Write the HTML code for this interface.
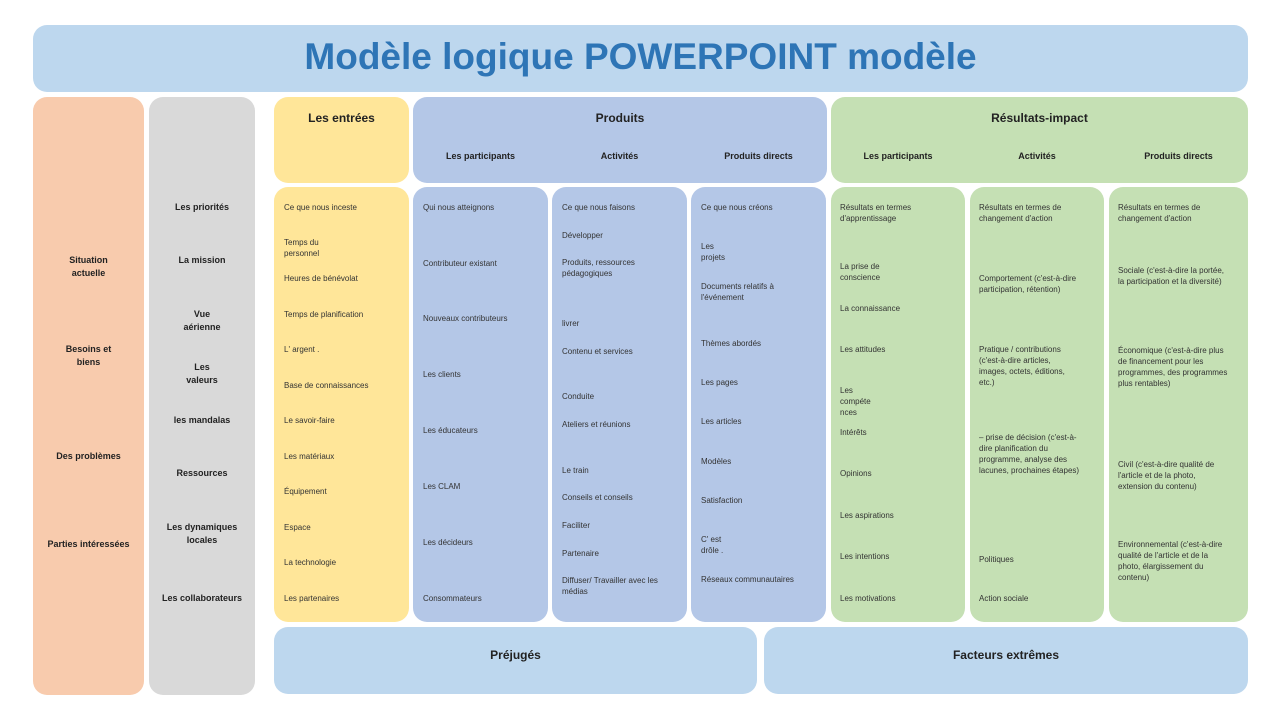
<!DOCTYPE html><html><head><meta charset="utf-8"><style>
body{margin:0;width:1280px;height:720px;background:#fff;position:relative;overflow:hidden;font-family:"Liberation Sans",sans-serif}
.b{position:absolute;border-radius:14px}
.t{position:absolute;font-size:8px;line-height:11px;color:#333}
.h{position:absolute;font-weight:bold;font-size:12px;color:#222;text-align:center}
.s{position:absolute;font-weight:bold;font-size:9px;color:#222;text-align:center;line-height:13px}
</style></head><body>
<div class="b" style="left:33px;top:25px;width:1215px;height:67px;background:#bdd7ee"></div>
<div style="position:absolute;left:33px;top:36px;width:1215px;text-align:center;font-weight:bold;font-size:37px;color:#2e75b6">Modèle logique POWERPOINT modèle</div>
<div class="b" style="left:33px;top:97px;width:111px;height:598px;background:#f8cbad"></div>
<div class="b" style="left:149px;top:97px;width:106px;height:598px;background:#d9d9d9"></div>
<div class="b" style="left:274px;top:97px;width:135px;height:86px;background:#ffe699"></div>
<div class="b" style="left:413px;top:97px;width:414px;height:86px;background:#b4c7e7"></div>
<div class="b" style="left:831px;top:97px;width:417px;height:86px;background:#c5e0b4"></div>
<div class="b" style="left:274px;top:187px;width:135px;height:435px;background:#ffe699"></div>
<div class="b" style="left:413px;top:187px;width:135px;height:435px;background:#b4c7e7"></div>
<div class="b" style="left:552px;top:187px;width:135px;height:435px;background:#b4c7e7"></div>
<div class="b" style="left:691px;top:187px;width:135px;height:435px;background:#b4c7e7"></div>
<div class="b" style="left:831px;top:187px;width:134px;height:435px;background:#c5e0b4"></div>
<div class="b" style="left:970px;top:187px;width:134px;height:435px;background:#c5e0b4"></div>
<div class="b" style="left:1109px;top:187px;width:139px;height:435px;background:#c5e0b4"></div>
<div class="b" style="left:274px;top:627px;width:483px;height:67px;background:#bdd7ee"></div>
<div class="b" style="left:764px;top:627px;width:484px;height:67px;background:#bdd7ee"></div>

<div class="h" style="left:274px;top:111px;width:135px">Les entrées</div>
<div class="h" style="left:413px;top:111px;width:414px">Produits</div>
<div class="h" style="left:831px;top:111px;width:417px">Résultats-impact</div>
<div class="s" style="left:413px;top:150px;width:135px">Les participants</div>
<div class="s" style="left:552px;top:150px;width:135px">Activités</div>
<div class="s" style="left:691px;top:150px;width:135px">Produits directs</div>
<div class="s" style="left:831px;top:150px;width:134px">Les participants</div>
<div class="s" style="left:970px;top:150px;width:134px">Activités</div>
<div class="s" style="left:1109px;top:150px;width:139px">Produits directs</div>
<div class="h" style="left:274px;top:648px;width:483px">Préjugés</div>
<div class="h" style="left:764px;top:648px;width:484px">Facteurs extrêmes</div>

<div class="s" style="left:33px;top:254px;width:111px">Situation<br>actuelle</div>
<div class="s" style="left:33px;top:343px;width:111px">Besoins et<br>biens</div>
<div class="s" style="left:33px;top:450px;width:111px">Des problèmes</div>
<div class="s" style="left:33px;top:538px;width:111px">Parties intéressées</div>

<div class="s" style="left:149px;top:201px;width:106px">Les priorités</div>
<div class="s" style="left:149px;top:254px;width:106px">La mission</div>
<div class="s" style="left:149px;top:308px;width:106px">Vue<br>aérienne</div>
<div class="s" style="left:149px;top:361px;width:106px">Les<br>valeurs</div>
<div class="s" style="left:149px;top:414px;width:106px">les mandalas</div>
<div class="s" style="left:149px;top:467px;width:106px">Ressources</div>
<div class="s" style="left:149px;top:521px;width:106px">Les dynamiques<br>locales</div>
<div class="s" style="left:149px;top:592px;width:106px">Les collaborateurs</div>

<div class="t" style="left:284px;top:202px">Ce que nous inceste</div>
<div class="t" style="left:284px;top:237px">Temps du<br>personnel</div>
<div class="t" style="left:284px;top:273px">Heures de bénévolat</div>
<div class="t" style="left:284px;top:309px">Temps de planification</div>
<div class="t" style="left:284px;top:344px">L' argent .</div>
<div class="t" style="left:284px;top:380px">Base de connaissances</div>
<div class="t" style="left:284px;top:415px">Le savoir-faire</div>
<div class="t" style="left:284px;top:451px">Les matériaux</div>
<div class="t" style="left:284px;top:486px">Équipement</div>
<div class="t" style="left:284px;top:522px">Espace</div>
<div class="t" style="left:284px;top:557px">La technologie</div>
<div class="t" style="left:284px;top:593px">Les partenaires</div>

<div class="t" style="left:423px;top:202px">Qui nous atteignons</div>
<div class="t" style="left:423px;top:258px">Contributeur existant</div>
<div class="t" style="left:423px;top:313px">Nouveaux contributeurs</div>
<div class="t" style="left:423px;top:369px">Les clients</div>
<div class="t" style="left:423px;top:425px">Les éducateurs</div>
<div class="t" style="left:423px;top:481px">Les CLAM</div>
<div class="t" style="left:423px;top:537px">Les décideurs</div>
<div class="t" style="left:423px;top:593px">Consommateurs</div>

<div class="t" style="left:562px;top:202px">Ce que nous faisons</div>
<div class="t" style="left:562px;top:230px">Développer</div>
<div class="t" style="left:562px;top:257px">Produits, ressources<br>pédagogiques</div>
<div class="t" style="left:562px;top:318px">livrer</div>
<div class="t" style="left:562px;top:346px">Contenu et services</div>
<div class="t" style="left:562px;top:391px">Conduite</div>
<div class="t" style="left:562px;top:419px">Ateliers et réunions</div>
<div class="t" style="left:562px;top:465px">Le train</div>
<div class="t" style="left:562px;top:492px">Conseils et conseils</div>
<div class="t" style="left:562px;top:520px">Faciliter</div>
<div class="t" style="left:562px;top:548px">Partenaire</div>
<div class="t" style="left:562px;top:575px">Diffuser/ Travailler avec les<br>médias</div>

<div class="t" style="left:701px;top:202px">Ce que nous créons</div>
<div class="t" style="left:701px;top:241px">Les<br>projets</div>
<div class="t" style="left:701px;top:281px">Documents relatifs à<br>l'événement</div>
<div class="t" style="left:701px;top:338px">Thèmes abordés</div>
<div class="t" style="left:701px;top:377px">Les pages</div>
<div class="t" style="left:701px;top:416px">Les articles</div>
<div class="t" style="left:701px;top:456px">Modèles</div>
<div class="t" style="left:701px;top:495px">Satisfaction</div>
<div class="t" style="left:701px;top:534px">C' est<br>drôle .</div>
<div class="t" style="left:701px;top:574px">Réseaux communautaires</div>

<div class="t" style="left:840px;top:202px">Résultats en termes<br>d'apprentissage</div>
<div class="t" style="left:840px;top:261px">La prise de<br>conscience</div>
<div class="t" style="left:840px;top:303px">La connaissance</div>
<div class="t" style="left:840px;top:344px">Les attitudes</div>
<div class="t" style="left:840px;top:385px">Les<br>compéte<br>nces</div>
<div class="t" style="left:840px;top:427px">Intérêts</div>
<div class="t" style="left:840px;top:468px">Opinions</div>
<div class="t" style="left:840px;top:510px">Les aspirations</div>
<div class="t" style="left:840px;top:551px">Les intentions</div>
<div class="t" style="left:840px;top:593px">Les motivations</div>

<div class="t" style="left:979px;top:202px">Résultats en termes de<br>changement d'action</div>
<div class="t" style="left:979px;top:273px">Comportement (c'est-à-dire<br>participation, rétention)</div>
<div class="t" style="left:979px;top:344px">Pratique / contributions<br>(c'est-à-dire articles,<br>images, octets, éditions,<br>etc.)</div>
<div class="t" style="left:979px;top:432px">– prise de décision (c'est-à-<br>dire planification du<br>programme, analyse des<br>lacunes, prochaines étapes)</div>
<div class="t" style="left:979px;top:554px">Politiques</div>
<div class="t" style="left:979px;top:593px">Action sociale</div>

<div class="t" style="left:1118px;top:202px">Résultats en termes de<br>changement d'action</div>
<div class="t" style="left:1118px;top:265px">Sociale (c'est-à-dire la portée,<br>la participation et la diversité)</div>
<div class="t" style="left:1118px;top:345px">Économique (c'est-à-dire plus<br>de financement pour les<br>programmes, des programmes<br>plus rentables)</div>
<div class="t" style="left:1118px;top:459px">Civil (c'est-à-dire qualité de<br>l'article et de la photo,<br>extension du contenu)</div>
<div class="t" style="left:1118px;top:539px">Environnemental (c'est-à-dire<br>qualité de l'article et de la<br>photo, élargissement du<br>contenu)</div>
</body></html>
